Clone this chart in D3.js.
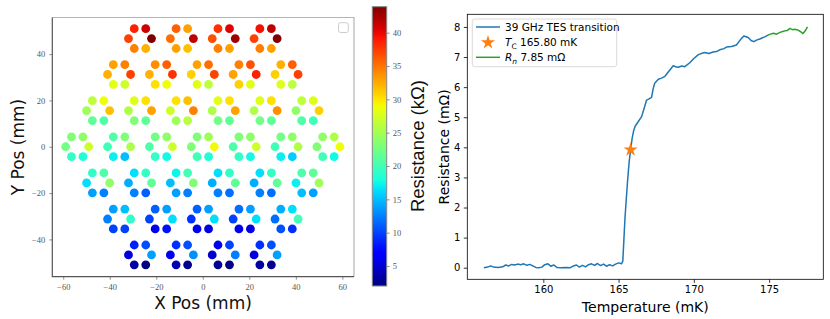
<!DOCTYPE html>
<html>
<head>
<meta charset="utf-8">
<script src="https://cdn.jsdelivr.net/npm/d3@7"></script>
<style>
body { margin: 0; background: #fff; }
</style>
</head>
<body>
<svg id="chart" width="830" height="319"></svg>
<script>
// detector layout: group centres (mm) per row, 6 pixels per group
var rowY = [46.7, 31.2, 15.6, 0, -15.6, -31.2, -46.7];
var rowX = [
  [-27, -9, 9, 27],
  [-36, -18, 0, 18, 36],
  [-45, -27, -9, 9, 27, 45],
  [-54, -36, -18, 0, 18, 36, 54],
  [-45, -27, -9, 9, 27, 45],
  [-36, -18, 0, 18, 36],
  [-27, -9, 9, 27]
];
// pixel order in a group: top-left, top-right, left, right, bottom-left, bottom-right
var pixelAngle = [120, 60, 180, 0, 240, 300];
var ringRadius = 4.95;

// resistance (kOhm), one list of 6 per group
var resistance = [
  [[38.7, 41.0, 37.3, 43.9, 34.5, 32.3], [35.9, 33.0, 35.2, 41.6, 33.0, 31.6],
   [38.0, 40.4, 36.6, 42.7, 34.5, 33.0], [39.5, 41.6, 37.3, 43.9, 34.5, 33.0]],
  [[33.0, 34.5, 32.3, 37.3, 28.2, 27.1], [33.8, 35.9, 32.3, 38.0, 30.2, 28.8],
   [33.0, 35.2, 30.9, 37.3, 28.0, 26.3], [34.5, 36.6, 33.0, 38.7, 30.9, 28.0],
   [32.3, 35.9, 30.9, 37.3, 28.0, 26.3]],
  [[26.3, 28.8, 24.8, 31.6, 21.5, 20.7], [28.0, 30.2, 25.6, 33.0, 23.2, 21.5],
   [30.2, 31.6, 27.1, 34.5, 24.8, 26.0], [28.0, 30.2, 25.6, 33.0, 22.4, 21.5],
   [28.0, 30.2, 25.6, 33.8, 22.4, 21.5], [26.3, 28.0, 24.0, 30.9, 20.7, 19.9]],
  [[23.2, 24.0, 22.4, 27.1, 19.2, 18.3], [20.7, 23.2, 19.9, 25.6, 17.1, 15.1],
   [22.4, 24.0, 20.7, 27.1, 19.2, 17.5], [23.2, 24.8, 23.2, 29.0, 19.9, 18.3],
   [23.2, 24.0, 20.7, 27.1, 19.2, 17.5], [22.4, 24.0, 19.9, 25.6, 17.1, 15.7],
   [24.0, 25.6, 23.2, 28.8, 19.9, 17.5]],
  [[19.2, 20.7, 16.4, 24.0, 13.8, 12.5], [16.4, 19.2, 14.4, 21.5, 12.5, 11.2],
   [17.3, 19.9, 15.1, 23.2, 13.8, 12.5], [16.4, 19.2, 14.4, 21.5, 12.5, 11.8],
   [16.4, 19.2, 14.4, 21.5, 12.5, 11.8], [20.7, 21.5, 17.1, 24.8, 15.1, 13.8]],
  [[13.8, 15.1, 12.5, 19.2, 9.9, 9.9], [11.2, 13.8, 9.9, 16.4, 6.1, 7.9],
   [11.2, 13.8, 9.2, 16.4, 6.1, 5.5], [11.8, 13.8, 9.9, 16.4, 6.1, 5.5],
   [14.4, 16.4, 11.8, 19.9, 10.5, 9.2]],
  [[8.5, 10.5, 5.5, 13.8, 3.2, 2.0], [9.2, 10.5, 6.1, 13.1, 3.8, 2.6],
   [6.1, 9.9, 4.9, 12.5, 2.6, 2.0], [9.2, 10.5, 5.5, 13.8, 3.2, 2.6]]
];
var colorMin = 2.0, colorMax = 43.9;
var colorTicks = [5, 10, 15, 20, 25, 30, 35, 40];
var posTicksX = [-60, -40, -20, 0, 20, 40, 60];
var posTicksY = [-40, -20, 0, 20, 40];

// TES transition
var tempK = [156.05, 156.3, 156.5, 156.7, 157.0, 157.3, 157.5, 157.7, 157.9, 158.1,
  158.3, 158.5, 158.7, 158.9, 159.1, 159.3, 159.5, 159.7, 159.9, 160.1,
  160.3, 160.5, 160.7, 160.9, 161.2, 161.5, 161.8, 162.0, 162.2, 162.4,
  162.6, 162.8, 163.0, 163.2, 163.4, 163.6, 163.8, 164.0, 164.2, 164.4,
  164.6, 164.8, 165.0, 165.2, 165.28, 165.35, 165.42, 165.5, 165.6, 165.7,
  165.8, 165.9, 166.0, 166.1, 166.3, 166.53, 166.7, 166.86, 167.0, 167.19,
  167.3, 167.4, 167.64, 167.85, 168.08, 168.3, 168.63, 168.8, 168.96, 169.2,
  169.4, 169.73, 170.0, 170.28, 170.5, 170.73, 171.0, 171.28, 171.5, 171.72,
  172.0, 172.17, 172.5, 172.83, 173.1, 173.32, 173.61, 173.8, 173.98, 174.2,
  174.38, 174.71, 174.93];
var resMOhm = [0.00, 0.02, 0.06, 0.02, 0.01, 0.03, 0.09, 0.06, 0.11, 0.09,
  0.12, 0.10, 0.13, 0.08, 0.11, 0.06, 0.01, 0.00, 0.02, 0.10,
  0.13, 0.05, 0.09, 0.01, 0.00, 0.01, 0.00, 0.06, 0.09, 0.02,
  0.08, 0.03, 0.10, 0.13, 0.08, 0.14, 0.07, 0.12, 0.05, 0.10,
  0.06, 0.12, 0.16, 0.13, 0.22, 0.90, 1.60, 2.20, 2.90, 3.50,
  3.92, 4.30, 4.55, 4.70, 4.85, 5.02, 5.30, 5.57, 5.60, 5.66,
  5.95, 6.13, 6.26, 6.30, 6.36, 6.50, 6.71, 6.68, 6.66, 6.70,
  6.68, 6.81, 6.95, 7.07, 7.12, 7.15, 7.12, 7.17, 7.18, 7.24,
  7.28, 7.33, 7.35, 7.40, 7.58, 7.70, 7.65, 7.55, 7.51, 7.57,
  7.60, 7.67, 7.73];
var normalTemp = [174.93, 175.1, 175.28, 175.5, 175.72, 175.9, 176.05, 176.2, 176.38,
  176.55, 176.71, 176.9, 177.1, 177.25, 177.4, 177.55];
var normalRes = [7.73, 7.76, 7.79, 7.76, 7.82, 7.85, 7.87, 7.88, 7.95,
  7.91, 7.92, 7.90, 7.84, 7.78, 7.87, 8.00];
var tcTemp = 165.80, tcRes = 3.92;
var rnValue = 7.85;
var tempTicks = [160, 165, 170, 175];
var resTicks = [0, 1, 2, 3, 4, 5, 6, 7, 8];

var svg = d3.select("#chart");
svg.append("rect").attr("width", 830).attr("height", 319).attr("fill", "#fff");

// jet colormap, same breakpoints as matplotlib
var jetR = d3.scaleLinear().domain([0, 0.35, 0.66, 0.89, 1]).range([0, 0, 1, 1, 0.5]).clamp(true);
var jetG = d3.scaleLinear().domain([0, 0.125, 0.375, 0.64, 0.91, 1]).range([0, 0, 1, 1, 0, 0]).clamp(true);
var jetB = d3.scaleLinear().domain([0, 0.11, 0.34, 0.65, 1]).range([0.5, 1, 1, 0, 0]).clamp(true);
function jet(t) {
  return d3.rgb(255 * jetR(t), 255 * jetG(t), 255 * jetB(t)).formatHex();
}
var norm = d3.scaleLinear().domain([colorMin, colorMax]).clamp(true);
function colorMap(v) { return jet(norm(v)); }

// ---------- left: focal plane ----------
var leftBox = {left: 52.3, right: 354, top: 17.5, bottom: 276.7};
var xPos = d3.scaleLinear().domain([-64.7, 65]).range([leftBox.left, leftBox.right]);
var yPos = d3.scaleLinear().domain([-56.1, 55.8]).range([leftBox.bottom, leftBox.top]);

var pixels = [];
for (var r = 0; r < rowY.length; r++) {
  for (var g = 0; g < rowX[r].length; g++) {
    for (var p = 0; p < 6; p++) {
      var a = pixelAngle[p] * Math.PI / 180;
      pixels.push({
        x: rowX[r][g] + ringRadius * Math.cos(a),
        y: rowY[r] + ringRadius * Math.sin(a),
        v: resistance[r][g][p]
      });
    }
  }
}

svg.selectAll("circle.pix")
  .data(pixels)
  .enter()
  .append("circle")
    .attr("class", "pix")
    .attr("cx", function(d) { return xPos(d.x); })
    .attr("cy", function(d) { return yPos(d.y); })
    .attr("r", 4.4)
    .attr("fill", function(d) { return colorMap(d.v); });

var tickFont = "'Liberation Serif', 'DejaVu Serif', serif";
function styleLeftAxis(g) {
  g.select(".domain").remove();
  g.selectAll(".tick line").attr("stroke", "#777").attr("stroke-width", 0.8);
  g.selectAll(".tick text").attr("fill", "#555").style("font-family", tickFont).style("font-size", "8.5px");
}
svg.append("g")
  .attr("transform", "translate(0," + leftBox.bottom + ")")
  .call(d3.axisBottom(xPos).tickValues(posTicksX).tickSize(3).tickPadding(4))
  .call(styleLeftAxis);
svg.append("g")
  .attr("transform", "translate(" + leftBox.left + ",0)")
  .call(d3.axisLeft(yPos).tickValues(posTicksY).tickSize(3).tickPadding(4))
  .call(styleLeftAxis);

// frame: dark left/bottom, light top/right
svg.append("path")
  .attr("d", "M" + leftBox.left + "," + leftBox.top + "H" + leftBox.right + "V" + leftBox.bottom)
  .attr("fill", "none").attr("stroke", "#b5b5b5").attr("stroke-width", 1.2);
svg.append("path")
  .attr("d", "M" + leftBox.left + "," + leftBox.top + "V" + leftBox.bottom + "H" + leftBox.right)
  .attr("fill", "none").attr("stroke", "#555").attr("stroke-width", 1.2);

// empty legend box
svg.append("rect")
  .attr("x", 338.5).attr("y", 22.7).attr("width", 9.8).attr("height", 9.8)
  .attr("rx", 2).attr("fill", "#fff").attr("stroke", "#ccc").attr("stroke-width", 1);

svg.append("text")
  .attr("x", 203).attr("y", 309)
  .attr("text-anchor", "middle")
  .style("font-family", "'DejaVu Sans', sans-serif").style("font-size", "17px")
  .attr("fill", "#111")
  .text("X Pos (mm)");
svg.append("text")
  .attr("transform", "translate(24,147) rotate(-90)")
  .attr("text-anchor", "middle")
  .style("font-family", "'DejaVu Sans', sans-serif").style("font-size", "17px")
  .attr("fill", "#111")
  .text("Y Pos (mm)");

// colorbar
var cbar = {x: 372.3, w: 14.4, top: 6.7, bottom: 286};
var cScale = d3.scaleLinear().domain([colorMin, colorMax]).range([cbar.bottom, cbar.top]);
var grad = svg.append("defs").append("linearGradient")
  .attr("id", "jetGrad").attr("x1", 0).attr("y1", 1).attr("x2", 0).attr("y2", 0);
grad.selectAll("stop")
  .data(d3.range(0, 1.0001, 0.02))
  .enter()
  .append("stop")
    .attr("offset", function(d) { return d; })
    .attr("stop-color", function(d) { return jet(d); });
svg.append("rect")
  .attr("x", cbar.x).attr("y", cbar.top).attr("width", cbar.w).attr("height", cbar.bottom - cbar.top)
  .attr("fill", "url(#jetGrad)").attr("stroke", "#888").attr("stroke-width", 1);
svg.append("g")
  .attr("transform", "translate(" + (cbar.x + cbar.w) + ",0)")
  .call(d3.axisRight(cScale).tickValues(colorTicks).tickSize(3).tickPadding(3))
  .call(styleLeftAxis);
svg.append("text")
  .attr("transform", "translate(424,146) rotate(-90)")
  .attr("text-anchor", "middle")
  .style("font-family", "'Liberation Sans', Arial, sans-serif").style("font-size", "18.5px")
  .attr("fill", "#111")
  .text("Resistance (k\u03A9)");

// ---------- right: transition curve ----------
var rightBox = {left: 467.3, right: 823.3, top: 14.3, bottom: 279.3};
var xT = d3.scaleLinear().domain([154.95, 178.6]).range([rightBox.left, rightBox.right]);
var yR = d3.scaleLinear().domain([-0.385, 8.42]).range([rightBox.bottom, rightBox.top]);

var sans = "'DejaVu Sans', sans-serif";
function styleRightAxis(g) {
  g.select(".domain").remove();
  g.selectAll(".tick line").attr("stroke", "#000").attr("stroke-width", 0.8);
  g.selectAll(".tick text").attr("fill", "#000").style("font-family", sans).style("font-size", "10px");
}
svg.append("g")
  .attr("transform", "translate(0," + rightBox.bottom + ")")
  .call(d3.axisBottom(xT).tickValues(tempTicks).tickSize(3.5).tickPadding(3.5))
  .call(styleRightAxis);
svg.append("g")
  .attr("transform", "translate(" + rightBox.left + ",0)")
  .call(d3.axisLeft(yR).tickValues(resTicks).tickSize(3.5).tickPadding(3.5))
  .call(styleRightAxis);

var line = d3.line()
  .x(function(d) { return xT(d[0]); })
  .y(function(d) { return yR(d[1]); });

svg.append("path")
  .datum(d3.zip(tempK, resMOhm))
  .attr("d", line)
  .attr("fill", "none").attr("stroke", "#1f77b4").attr("stroke-width", 1.5)
  .attr("stroke-linejoin", "round");
svg.append("path")
  .datum(d3.zip(normalTemp, normalRes))
  .attr("d", line)
  .attr("fill", "none").attr("stroke", "#2ca02c").attr("stroke-width", 1.5)
  .attr("stroke-linejoin", "round");

var star = d3.symbol().type(d3.symbolStar).size(62);
svg.append("path")
  .attr("d", star())
  .attr("transform", "translate(" + xT(tcTemp) + "," + yR(tcRes) + ")")
  .attr("fill", "#ff7f0e");

svg.append("rect")
  .attr("x", rightBox.left).attr("y", rightBox.top)
  .attr("width", rightBox.right - rightBox.left).attr("height", rightBox.bottom - rightBox.top)
  .attr("fill", "none").attr("stroke", "#000").attr("stroke-width", 0.8);

// legend
var legend = svg.append("g");
legend.append("rect")
  .attr("x", 472.3).attr("y", 19).attr("width", 144.4).attr("height", 47.7)
  .attr("rx", 2.5).attr("fill", "#fff").attr("fill-opacity", 0.8)
  .attr("stroke", "#d0d0d0").attr("stroke-width", 0.8);
var legendRows = [27, 42.5, 57.3];
legend.append("line")
  .attr("x1", 476).attr("x2", 500).attr("y1", legendRows[0]).attr("y2", legendRows[0])
  .attr("stroke", "#1f77b4").attr("stroke-width", 1.5);
legend.append("path")
  .attr("d", star())
  .attr("transform", "translate(488," + legendRows[1] + ")")
  .attr("fill", "#ff7f0e");
legend.append("line")
  .attr("x1", 476).attr("x2", 500).attr("y1", legendRows[2]).attr("y2", legendRows[2])
  .attr("stroke", "#2ca02c").attr("stroke-width", 1.5);

function legendText(y) {
  return legend.append("text")
    .attr("x", 505).attr("y", y + 3.8)
    .style("font-family", sans).style("font-size", "10.5px")
    .attr("fill", "#000");
}
legendText(legendRows[0]).text("39 GHz TES transition");
var t2 = legendText(legendRows[1]);
t2.append("tspan").style("font-style", "italic").text("T");
t2.append("tspan").attr("dy", 2.5).style("font-size", "7.5px").text("C");
t2.append("tspan").attr("dy", -2.5).text(" " + tcTemp.toFixed(2) + " mK");
var t3 = legendText(legendRows[2]);
t3.append("tspan").style("font-style", "italic").text("R");
t3.append("tspan").attr("dy", 2.5).style("font-size", "7.5px").style("font-style", "italic").text("n");
t3.append("tspan").attr("dy", -2.5).text(" " + rnValue.toFixed(2) + " m\u03A9");

svg.append("text")
  .attr("x", (rightBox.left + rightBox.right) / 2).attr("y", 312)
  .attr("text-anchor", "middle")
  .style("font-family", sans).style("font-size", "14px")
  .attr("fill", "#000")
  .text("Temperature (mK)");
svg.append("text")
  .attr("transform", "translate(449," + ((rightBox.top + rightBox.bottom) / 2) + ") rotate(-90)")
  .attr("text-anchor", "middle")
  .style("font-family", sans).style("font-size", "14px")
  .attr("fill", "#000")
  .text("Resistance (m\u03A9)");
</script>
</body>
</html>
